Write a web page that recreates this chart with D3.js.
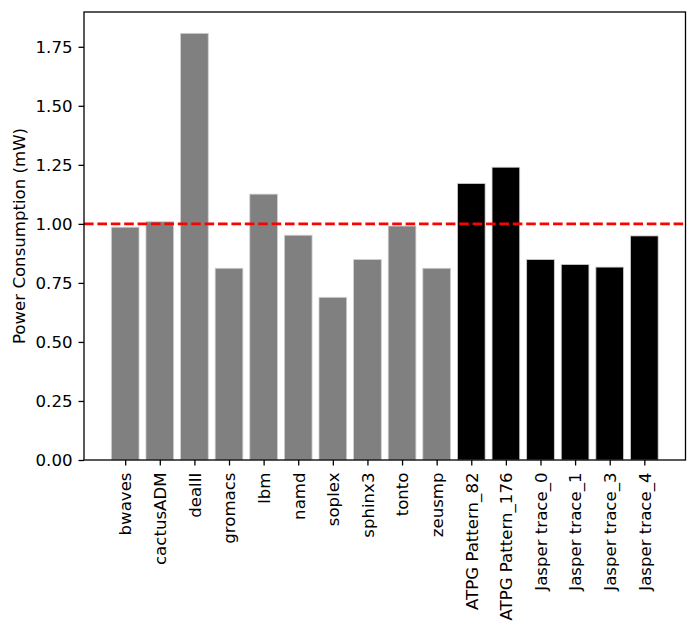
<!DOCTYPE html>
<html>
<head>
<meta charset="utf-8">
<script src="https://cdn.jsdelivr.net/npm/d3@7"></script>
<style>
  body { margin: 0; background: #fff; }
  svg { display: block; font-family: "DejaVu Sans", sans-serif; }
</style>
</head>
<body>
<div id="chart"></div>
<script>
const categories = ["bwaves", "cactusADM", "dealII", "gromacs", "lbm", "namd", "soplex", "sphinx3", "tonto", "zeusmp",
  "ATPG Pattern_82", "ATPG Pattern_176", "Jasper trace_0", "Jasper trace_1", "Jasper trace_3", "Jasper trace_4"];
const values = [0.986, 1.009, 1.807, 0.812, 1.126, 0.952, 0.689, 0.849, 0.991, 0.812,
  1.171, 1.240, 0.849, 0.828, 0.817, 0.949];
const groups = ["SPEC", "SPEC", "SPEC", "SPEC", "SPEC", "SPEC", "SPEC", "SPEC", "SPEC", "SPEC",
  "Trojan", "Trojan", "Trojan", "Trojan", "Trojan", "Trojan"];
const groupColors = { SPEC: "#808080", Trojan: "#000000" };
const yTicks = [0, 0.25, 0.5, 0.75, 1.0, 1.25, 1.5, 1.75];
const threshold = 1.0;
const yLabel = "Power Consumption (mW)";

const W = 698, H = 635;
const margin = { left: 84, top: 12, right: 12.5, bottom: 175 };
const iw = W - margin.left - margin.right;
const ih = H - margin.top - margin.bottom;
const FS = "16.6px";

const svg = d3.select("#chart").append("svg").attr("width", W).attr("height", H);
const g = svg.append("g").attr("transform", `translate(${margin.left},${margin.top})`);

const n = categories.length;
const barW = 0.8;
const pad = (n - 1 + barW) * 0.05;
const x = d3.scaleLinear().domain([-barW / 2 - pad, n - 1 + barW / 2 + pad]).range([0, iw]);
const y = d3.scaleLinear().domain([0, d3.max(values) * 1.05]).range([ih, 0]);

// bars
g.selectAll("rect.bar").data(values).enter().append("rect")
  .attr("class", "bar")
  .attr("x", (d, i) => x(i - barW / 2))
  .attr("width", (d, i) => x(i + barW / 2) - x(i - barW / 2))
  .attr("y", d => y(d))
  .attr("height", d => y(0) - y(d))
  .attr("fill", (d, i) => groupColors[groups[i]])
  .attr("stroke", "#d0d0d0")
  .attr("stroke-width", 0.8);

// threshold line
g.append("line")
  .attr("x1", 0).attr("x2", iw)
  .attr("y1", y(threshold)).attr("y2", y(threshold))
  .attr("stroke", "#ff0000")
  .attr("stroke-width", 2.6)
  .attr("stroke-dasharray", "9.6,3.8");

// axes
const yAxis = d3.axisLeft(y).tickValues(yTicks).tickFormat(d3.format(".2f")).tickSizeOuter(0).tickSize(5.5).tickPadding(6);
const yg = g.append("g").call(yAxis);
const xAxis = d3.axisBottom(x).tickValues(d3.range(n)).tickFormat(i => categories[i]).tickSizeOuter(0).tickSize(5.5);
const xg = g.append("g").attr("transform", `translate(0,${ih})`).call(xAxis);

[yg, xg].forEach(a => {
  a.select(".domain").remove();
  a.selectAll(".tick line").attr("stroke", "#000").attr("stroke-width", 1.3);
  a.selectAll(".tick text").attr("fill", "#000").attr("font-size", FS).attr("font-family", "DejaVu Sans, sans-serif");
});

xg.selectAll(".tick text")
  .attr("transform", "rotate(-90)")
  .attr("text-anchor", "end")
  .attr("x", -12.5)
  .attr("y", 0)
  .attr("dy", "0.35em");

// frame
g.append("rect").attr("x", 0).attr("y", 0).attr("width", iw).attr("height", ih)
  .attr("fill", "none").attr("stroke", "#000").attr("stroke-width", 1.3);

// y label
svg.append("text")
  .attr("transform", `translate(${25},${margin.top + ih / 2}) rotate(-90)`)
  .attr("text-anchor", "middle")
  .attr("font-size", FS)
  .attr("fill", "#000")
  .text(yLabel);
</script>
</body>
</html>
